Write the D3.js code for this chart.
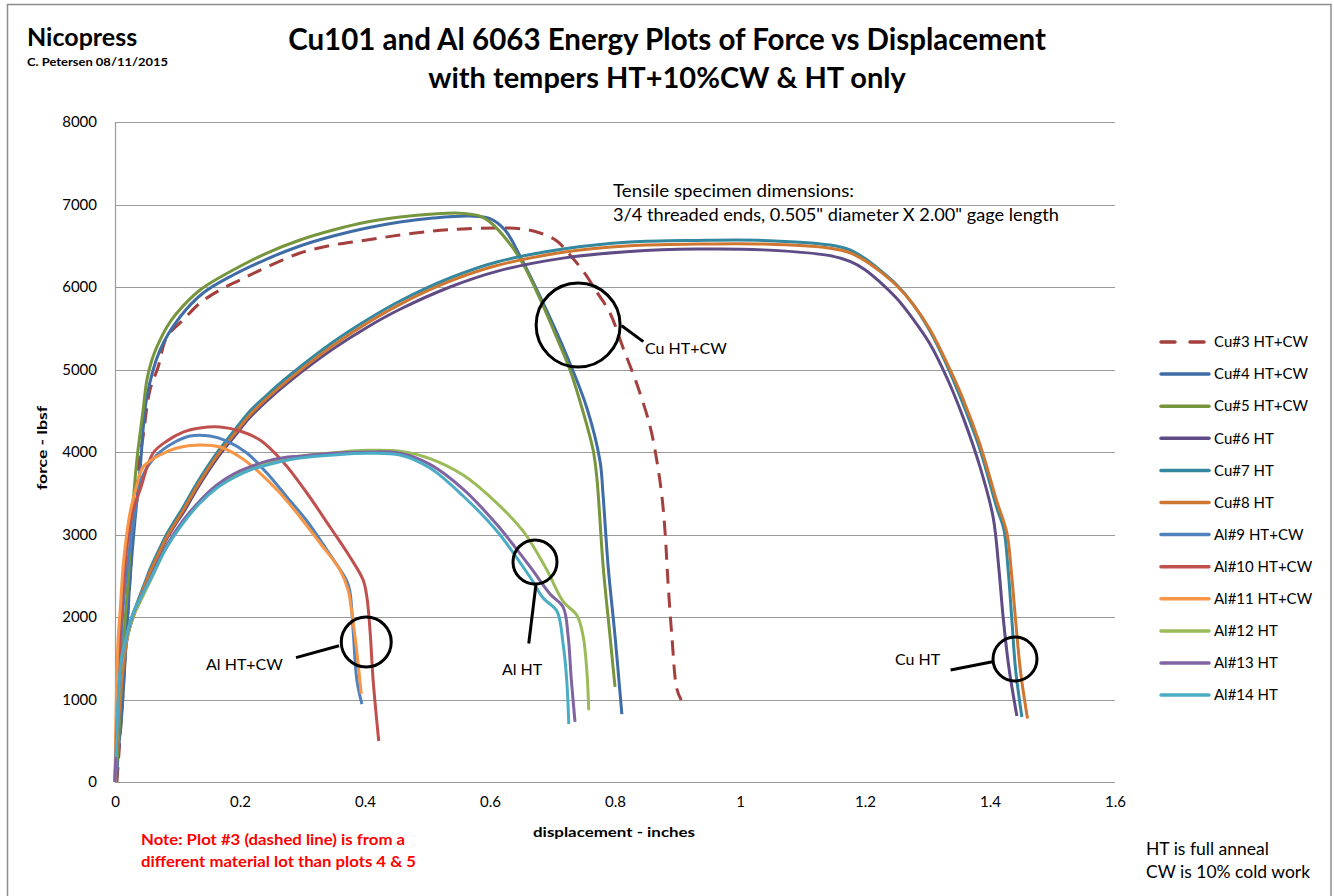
<!DOCTYPE html>
<html>
<head>
<meta charset="utf-8">
<script src="https://cdn.jsdelivr.net/npm/d3@7"></script>
<style>
  body { margin: 0; background: #fff; }
  text { font-family: Lato, "Open Sans", sans-serif; }
</style>
</head>
<body>
<svg id="svg1" width="1334" height="896"></svg>
<script>
// tick values
var xTicks = [0, 0.2, 0.4, 0.6, 0.8, 1, 1.2, 1.4, 1.6];
var yTicks = [0, 1000, 2000, 3000, 4000, 5000, 6000, 7000, 8000];

// series names, in legend order
var names = ["Cu#3 HT+CW", "Cu#4 HT+CW", "Cu#5 HT+CW", "Cu#6 HT", "Cu#7 HT", "Cu#8 HT",
  "Al#9 HT+CW", "Al#10 HT+CW", "Al#11 HT+CW", "Al#12 HT", "Al#13 HT", "Al#14 HT"];

// [displacement (in), force (lbsf)]
var cu3 = [[0.003,0],[0.010,752],[0.018,1721],[0.026,2691],[0.035,3661],[0.045,4194],[0.056,4752],
  [0.069,5030],[0.083,5394],[0.109,5600],[0.136,5806],[0.168,5964],[0.200,6085],[0.243,6242],
  [0.296,6412],[0.349,6509],[0.403,6570],[0.456,6630],[0.509,6679],[0.557,6703],[0.611,6715],
  [0.653,6703],[0.680,6655],[0.707,6558],[0.728,6388],[0.749,6194],[0.771,5939],[0.792,5685],
  [0.813,5261],[0.835,4824],[0.856,4315],[0.867,3891],[0.875,3467],[0.880,3042],[0.885,2400],
  [0.891,1770],[0.899,1127],[0.906,994]];
var cu4 = [[0.002,0],[0.006,424],[0.011,836],[0.018,1721],[0.024,2448],[0.032,3176],[0.040,3782],
  [0.051,4667],[0.072,5236],[0.104,5636],[0.141,5927],[0.189,6145],[0.243,6339],[0.296,6497],
  [0.349,6618],[0.403,6715],[0.456,6788],[0.509,6836],[0.568,6860],[0.600,6830],[0.624,6691],
  [0.648,6376],[0.685,5806],[0.723,5164],[0.755,4533],[0.776,3891],[0.781,3467],[0.789,2618],
  [0.800,1770],[0.811,824]];
var cu5 = [[0,0],[0.005,424],[0.008,836],[0.014,1721],[0.021,2448],[0.027,3176],[0.035,3903],
  [0.045,4509],[0.051,4873],[0.059,5115],[0.067,5273],[0.083,5515],[0.099,5685],[0.136,5964],
  [0.189,6206],[0.243,6412],[0.296,6570],[0.349,6691],[0.403,6788],[0.456,6848],[0.509,6885],
  [0.552,6895],[0.584,6860],[0.600,6788],[0.627,6570],[0.653,6279],[0.680,5855],[0.707,5382],
  [0.728,4994],[0.749,4485],[0.765,4024],[0.771,3685],[0.781,2618],[0.792,1770],[0.800,1152]];
var cu6 = [[0,0],[0.003,420],[0.008,960],[0.014,1440],[0.021,1800],[0.032,2060],[0.040,2190],
  [0.056,2520],[0.072,2780],[0.083,2950],[0.099,3150],[0.109,3260],[0.131,3550],[0.163,3920],
  [0.189,4170],[0.216,4420],[0.243,4620],[0.280,4860],[0.349,5250],[0.403,5510],[0.456,5730],
  [0.536,6000],[0.611,6190],[0.717,6350],[0.824,6430],[0.931,6460],[1.037,6450],[1.144,6380],
  [1.176,6310],[1.200,6210],[1.224,6060],[1.251,5860],[1.277,5610],[1.304,5310],[1.331,4900],
  [1.357,4420],[1.384,3820],[1.405,3210],[1.414,2600],[1.421,2000],[1.430,1400],[1.443,800]];
var cu7 = [[0,0],[0.003,448],[0.008,994],[0.014,1479],[0.021,1842],[0.032,2100],[0.048,2420],
  [0.056,2580],[0.072,2840],[0.083,3010],[0.099,3210],[0.109,3330],[0.131,3620],[0.163,3988],
  [0.189,4242],[0.216,4497],[0.243,4691],[0.280,4933],[0.349,5333],[0.403,5600],[0.456,5830],
  [0.536,6109],[0.611,6303],[0.717,6461],[0.824,6545],[0.931,6565],[1.037,6565],[1.144,6509],
  [1.176,6450],[1.200,6345],[1.224,6205],[1.251,6025],[1.277,5790],[1.304,5465],[1.331,5050],
  [1.357,4580],[1.384,4030],[1.411,3320],[1.422,3070],[1.429,2570],[1.435,1964],[1.441,1358],
  [1.451,788]];
var cu8 = [[0,0],[0.003,420],[0.008,950],[0.014,1440],[0.021,1800],[0.032,2070],[0.048,2390],
  [0.056,2545],[0.072,2800],[0.083,2970],[0.099,3170],[0.109,3290],[0.131,3580],[0.163,3950],
  [0.189,4200],[0.216,4450],[0.243,4650],[0.280,4890],[0.349,5290],[0.403,5560],[0.456,5790],
  [0.536,6070],[0.611,6260],[0.717,6420],[0.824,6500],[0.931,6520],[1.037,6520],[1.144,6470],
  [1.176,6415],[1.200,6320],[1.224,6190],[1.251,6015],[1.277,5790],[1.304,5485],[1.331,5080],
  [1.357,4640],[1.384,4090],[1.411,3400],[1.427,3020],[1.434,2560],[1.441,1960],[1.449,1330],
  [1.460,770]];
var al9 = [[0,0],[0.003,752],[0.008,1479],[0.014,2206],[0.021,2691],[0.029,3115],[0.045,3721],
  [0.067,3964],[0.093,4109],[0.120,4194],[0.152,4194],[0.179,4133],[0.211,3988],[0.243,3745],
  [0.275,3455],[0.307,3164],[0.339,2812],[0.371,2436],[0.376,2303],[0.381,1842],[0.387,1236],
  [0.395,945]];
var al10 = [[0,0],[0.003,836],[0.008,1721],[0.013,2327],[0.019,2848],[0.029,3297],[0.040,3539],
  [0.061,3988],[0.083,4133],[0.109,4242],[0.136,4291],[0.168,4303],[0.200,4255],[0.232,4145],
  [0.269,3879],[0.307,3503],[0.344,3091],[0.376,2727],[0.397,2448],[0.403,2242],[0.408,1842],
  [0.413,1236],[0.422,497]];
var al11 = [[0,0],[0.002,994],[0.005,1721],[0.008,2048],[0.014,2691],[0.024,3261],[0.035,3600],
  [0.045,3818],[0.072,3964],[0.099,4048],[0.136,4085],[0.168,4060],[0.200,3939],[0.232,3745],
  [0.264,3503],[0.296,3212],[0.328,2897],[0.360,2570],[0.373,2327],[0.379,2048],[0.386,1636],
  [0.394,1067]];
var al12 = [[0,0],[0.005,900],[0.010,1400],[0.016,1650],[0.029,2000],[0.045,2260],[0.056,2430],
  [0.083,2850],[0.109,3150],[0.136,3400],[0.163,3590],[0.189,3720],[0.216,3810],[0.243,3870],
  [0.269,3920],[0.296,3950],[0.349,3990],[0.403,4020],[0.456,4010],[0.504,3920],[0.557,3720],
  [0.611,3380],[0.653,3040],[0.691,2570],[0.717,2190],[0.739,2020],[0.749,1770],[0.755,1340],
  [0.758,870]];
var al13 = [[0,0],[0.005,950],[0.010,1450],[0.016,1680],[0.029,2040],[0.045,2300],[0.056,2460],
  [0.083,2870],[0.109,3170],[0.136,3410],[0.163,3600],[0.189,3730],[0.216,3820],[0.243,3890],
  [0.269,3930],[0.296,3950],[0.349,3985],[0.403,4000],[0.456,3985],[0.504,3850],[0.557,3550],
  [0.611,3120],[0.664,2610],[0.696,2280],[0.717,2120],[0.725,1770],[0.730,1250],[0.736,730]];
var al14 = [[0.002,303],[0.005,994],[0.010,1479],[0.016,1697],[0.029,2048],[0.045,2290],
  [0.056,2448],[0.083,2848],[0.109,3139],[0.136,3382],[0.163,3564],[0.189,3685],[0.216,3782],
  [0.243,3842],[0.269,3891],[0.296,3927],[0.349,3964],[0.403,3985],[0.456,3964],[0.504,3806],
  [0.557,3467],[0.611,3042],[0.664,2485],[0.685,2230],[0.707,2073],[0.717,1673],[0.723,1212],
  [0.726,703]];

var colors = ["#a33f3c", "#3f6ca6", "#77953d", "#5f4b85", "#33879e", "#cf7631",
  "#4f81bd", "#c0504d", "#f79646", "#9bbb59", "#8064a2", "#4bacc6"];

var svg = d3.select("#svg1"),
  margin = {top: 122, right: 219, bottom: 114, left: 115},
  width = +svg.attr("width") - margin.left - margin.right,
  height = +svg.attr("height") - margin.top - margin.bottom;

svg.append("rect").attr("width", 1334).attr("height", 896).attr("fill", "#fff");
// outer chart frame
svg.append("rect")
  .attr("x", 7.5).attr("y", 4.5).attr("width", 1323.5).attr("height", 900)
  .attr("fill", "none").attr("stroke", "#8c8c8c").attr("stroke-width", 1.5);

var g = svg.append("g").attr("transform", "translate(" + margin.left + "," + margin.top + ")");

var x = d3.scaleLinear().domain([0, 1.6]).range([0, width]);
var y = d3.scaleLinear().domain([0, 8000]).range([height, 0]);

// gridlines
g.append("g")
  .selectAll("line")
  .data(yTicks)
  .enter().append("line")
    .attr("x1", 0).attr("x2", width)
    .attr("y1", function(d) { return Math.round(y(d)) + 0.5; })
    .attr("y2", function(d) { return Math.round(y(d)) + 0.5; })
    .attr("stroke", "#9a9a9a").attr("stroke-width", 1.2);

g.append("line")
  .attr("x1", 0.5).attr("x2", 0.5).attr("y1", 0).attr("y2", height)
  .attr("stroke", "#9a9a9a").attr("stroke-width", 1.2);

// axis labels
var yAxis = g.append("g")
  .call(d3.axisLeft(y).tickValues(yTicks).tickSize(0).tickPadding(18).tickFormat(d3.format("d")));
yAxis.select(".domain").remove();
yAxis.selectAll("text").attr("font-size", 15).attr("font-family", "Lato").attr("fill", "#000");

var xAxis = g.append("g")
  .attr("transform", "translate(0," + height + ")")
  .call(d3.axisBottom(x).tickValues(xTicks).tickSize(0).tickPadding(14)
    .tickFormat(function(d) { return d3.format("~g")(d); }));
xAxis.select(".domain").remove();
xAxis.selectAll("text").attr("font-size", 15).attr("font-family", "Lato").attr("fill", "#000");

g.append("text")
  .attr("transform", "translate(" + (-68) + "," + (height / 2 - 4) + ") rotate(-90)")
  .attr("text-anchor", "middle")
  .attr("font-size", 14).attr("font-weight", "bold")
  .attr("textLength", 84).attr("lengthAdjust", "spacingAndGlyphs")
  .text("force - lbsf");

g.append("text")
  .attr("x", x(0.8) - 1).attr("y", height + 55)
  .attr("text-anchor", "middle")
  .attr("font-size", 14).attr("font-weight", "bold")
  .attr("textLength", 162).attr("lengthAdjust", "spacingAndGlyphs")
  .text("displacement -  inches");

// curves
var series = [cu3, cu4, cu5, cu6, cu7, cu8, al9, al10, al11, al12, al13, al14].map(function(d, i) {
  return {name: names[i], color: colors[i], values: d, dashed: i === 0};
});

var line = d3.line()
  .x(function(d) { return x(d[0]); })
  .y(function(d) { return y(d[1]); })
  .curve(d3.curveCatmullRom.alpha(0.5));

g.append("g")
  .selectAll("path")
  .data(series)
  .enter().append("path")
    .attr("fill", "none")
    .attr("stroke", function(d) { return d.color; })
    .attr("stroke-width", 3)
    .attr("stroke-linejoin", "round")
    .attr("stroke-dasharray", function(d) { return d.dashed ? "15,9" : null; })
    .attr("d", function(d) { return line(d.values); });

// callouts: circle centre, radius, leader line ends, label
var callouts = [
  {cx: 0.402, cy: 1697, r: 25, l: [[0.2896, 1507], [0.3584, 1652]], tx: 0.1456, ty: 1358, label: "Al HT+CW"},
  {cx: 0.672, cy: 2667, r: 22, l: [[0.6736, 2400], [0.662, 1679]], tx: 0.619, ty: 1297, label: "Al HT"},
  {cx: 0.741, cy: 5539, r: 42, l: [[0.8107, 5530], [0.8453, 5338]], tx: 0.848, ty: 5188, label: "Cu HT+CW"},
  {cx: 1.44, cy: 1491, r: 22, l: [[1.337, 1358], [1.404, 1458]], tx: 1.248, ty: 1418, label: "Cu HT"}
];

var co = g.append("g").selectAll("g").data(callouts).enter().append("g");
co.append("circle")
  .attr("cx", function(d) { return x(d.cx); })
  .attr("cy", function(d) { return y(d.cy); })
  .attr("r", function(d) { return d.r; })
  .attr("fill", "none").attr("stroke", "#000").attr("stroke-width", 3);
co.append("line")
  .attr("x1", function(d) { return x(d.l[0][0]); })
  .attr("y1", function(d) { return y(d.l[0][1]); })
  .attr("x2", function(d) { return x(d.l[1][0]); })
  .attr("y2", function(d) { return y(d.l[1][1]); })
  .attr("stroke", "#000").attr("stroke-width", 3);
co.append("text")
  .attr("x", function(d) { return x(d.tx); })
  .attr("y", function(d) { return y(d.ty); })
  .attr("font-size", 16)
  .text(function(d) { return d.label; });

// specimen note
g.append("text")
  .attr("x", x(0.7968)).attr("y", y(7091))
  .attr("font-size", 16.5)
  .attr("textLength", 241).attr("lengthAdjust", "spacingAndGlyphs")
  .text("Tensile specimen dimensions:");
g.append("text")
  .attr("x", x(0.7968)).attr("y", y(6806))
  .attr("font-size", 16.5)
  .attr("textLength", 446).attr("lengthAdjust", "spacingAndGlyphs")
  .text("3/4 threaded ends, 0.505\" diameter X 2.00\" gage length");

// legend
var legend = svg.append("g").attr("transform", "translate(1161,342)")
  .selectAll("g").data(series).enter().append("g")
    .attr("transform", function(d, i) { return "translate(0," + (i * 32.1) + ")"; });
legend.append("line")
  .attr("x1", 0).attr("x2", 48)
  .attr("stroke", function(d) { return d.color; })
  .attr("stroke-width", 3.5)
  .attr("stroke-linecap", "round")
  .attr("stroke-dasharray", function(d) { return d.dashed ? "14,15" : null; });
legend.append("text")
  .attr("x", 53).attr("dy", "0.35em")
  .attr("font-size", 15)
  .text(function(d) { return d.name; });

// titles and notes
svg.append("text")
  .attr("x", 667).attr("y", 50)
  .attr("text-anchor", "middle")
  .attr("font-size", 29.5).attr("font-weight", "bold")
  .text("Cu101 and Al 6063 Energy Plots of Force vs Displacement");
svg.append("text")
  .attr("x", 667).attr("y", 88)
  .attr("text-anchor", "middle")
  .attr("font-size", 29).attr("font-weight", "bold")
  .text("with tempers HT+10%CW & HT only");

svg.append("text")
  .attr("x", 27).attr("y", 46)
  .attr("font-size", 25).attr("font-weight", "bold")
  .text("Nicopress");
svg.append("text")
  .attr("x", 27).attr("y", 66)
  .attr("font-size", 11).attr("font-weight", "bold")
  .attr("textLength", 141).attr("lengthAdjust", "spacingAndGlyphs")
  .text("C. Petersen 08/11/2015");

svg.append("text")
  .attr("x", 141).attr("y", 845)
  .attr("font-size", 15).attr("font-weight", "bold").attr("fill", "#ff0000")
  .attr("textLength", 264).attr("lengthAdjust", "spacingAndGlyphs")
  .text("Note: Plot #3 (dashed line) is from a");
svg.append("text")
  .attr("x", 141).attr("y", 867)
  .attr("font-size", 15).attr("font-weight", "bold").attr("fill", "#ff0000")
  .attr("textLength", 275).attr("lengthAdjust", "spacingAndGlyphs")
  .text("different material lot than plots 4 & 5");

svg.append("text")
  .attr("x", 1146).attr("y", 855)
  .attr("font-size", 17.5)
  .text("HT is full anneal");
svg.append("text")
  .attr("x", 1146).attr("y", 878)
  .attr("font-size", 17.5)
  .text("CW is 10% cold work");
</script>
</body>
</html>
